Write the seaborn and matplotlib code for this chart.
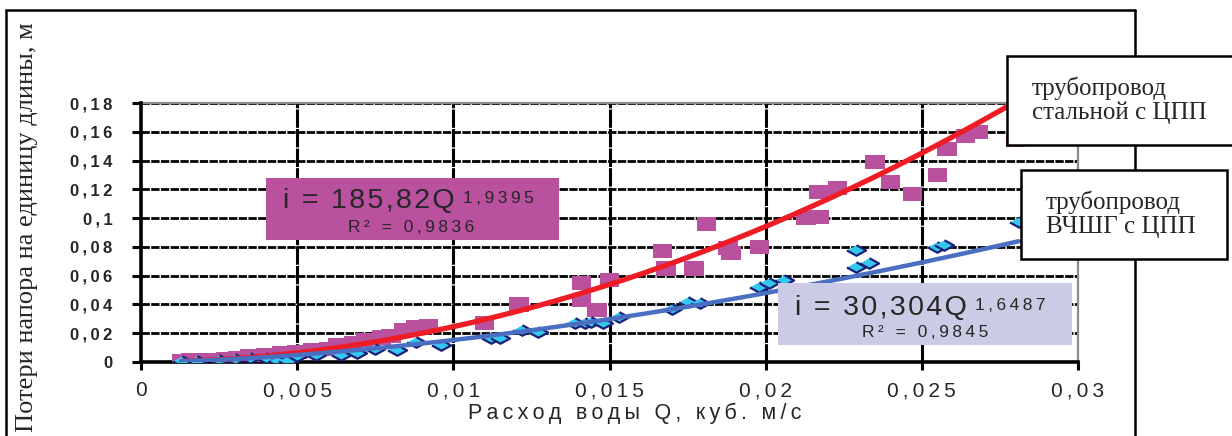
import matplotlib
matplotlib.use("Agg")
import matplotlib.pyplot as plt
from matplotlib.patches import Rectangle
from matplotlib.lines import Line2D
import pandas as pd
import numpy as np
import seaborn as sns

# steel pipe with cement-sand lining (pink squares)
q_steel = [0.0013, 0.0016, 0.0020, 0.0022, 0.0027, 0.0031, 0.0035, 0.0040, 0.0045, 0.0050,
           0.0055, 0.0060, 0.0063, 0.0068, 0.0072, 0.0077, 0.0080, 0.0084, 0.0088, 0.0092,
           0.0110, 0.0121, 0.0141, 0.0141, 0.0146, 0.0150, 0.0167, 0.0168, 0.0177, 0.0181,
           0.0188, 0.0189, 0.0198, 0.0213, 0.0217, 0.0217, 0.0223, 0.0235, 0.0240, 0.0247,
           0.0255, 0.0258, 0.0264, 0.0268, 0.0280]
i_steel = [0.0005, 0.0010, 0.0010, 0.0015, 0.0020, 0.0030, 0.0040, 0.0050, 0.0060, 0.0070,
           0.0080, 0.0090, 0.0120, 0.0130, 0.0150, 0.0170, 0.0180, 0.0220, 0.0240, 0.0250,
           0.0270, 0.0400, 0.0550, 0.0430, 0.0360, 0.0570, 0.0770, 0.0650, 0.0650, 0.0960,
           0.0790, 0.0760, 0.0800, 0.1000, 0.1010, 0.1180, 0.1210, 0.1390, 0.1250, 0.1170,
           0.1300, 0.1480, 0.1570, 0.1600, 0.1540]

# ductile iron pipe with cement-sand lining (blue diamonds)
q_iron = [0.0013, 0.0018, 0.0025, 0.0030, 0.0035, 0.0040, 0.0044, 0.0047, 0.0050, 0.0056,
          0.0064, 0.0069, 0.0075, 0.0082, 0.0088, 0.0096, 0.0112, 0.0115, 0.0122, 0.0127,
          0.0139, 0.0142, 0.0144, 0.0148, 0.0153, 0.0170, 0.0175, 0.0179, 0.0198, 0.0201,
          0.0206, 0.0229, 0.0229, 0.0233, 0.0255, 0.0257, 0.0281]
i_iron = [0.0008, 0.0010, 0.0015, 0.0020, 0.0025, 0.0030, 0.0010, 0.0010, 0.0040, 0.0050,
          0.0050, 0.0060, 0.0090, 0.0080, 0.0140, 0.0120, 0.0170, 0.0170, 0.0220, 0.0210,
          0.0270, 0.0270, 0.0280, 0.0270, 0.0310, 0.0370, 0.0420, 0.0410, 0.0520, 0.0550,
          0.0570, 0.0780, 0.0660, 0.0690, 0.0800, 0.0810, 0.0970]

# power trend lines i = a * Q^b
a_steel, b_steel = 185.82, 1.9395
a_iron, b_iron = 30.304, 1.6487

x_ticks = [0, 0.005, 0.01, 0.015, 0.02, 0.025, 0.03]
x_tick_labels = ["0", "0,005", "0,01", "0,015", "0,02", "0,025", "0,03"]
y_ticks = [0, 0.02, 0.04, 0.06, 0.08, 0.1, 0.12, 0.14, 0.16, 0.18]
y_tick_labels = ["0", "0,02", "0,04", "0,06", "0,08", "0,1", "0,12", "0,14", "0,16", "0,18"]

PINK = "#b9519e"
RED = "#ee1c25"
BLUE = "#4a6ec2"
CYAN = "#33c9ee"
NAVY = "#1c1f78"
LAVENDER = "#cccbe6"

sns.set_style("white")
plt.rcParams["font.family"] = ["Liberation Sans", "DejaVu Sans"]
SANS = ["Liberation Sans", "DejaVu Sans"]
SERIF = ["Liberation Serif", "DejaVu Serif"]


def spaced(s, gap="\u2009"):
    # imitate the wide letter spacing of the original
    return gap.join(s)


fig = plt.figure(figsize=(12.32, 4.36), dpi=100)
ax = fig.add_axes([141 / 1232, 1 - 362 / 436, 937 / 1232, 259 / 436])

steel = pd.DataFrame({"Q": q_steel, "i": i_steel})
iron = pd.DataFrame({"Q": q_iron, "i": i_iron})

rect_marker = [(-1, -0.72), (1, -0.72), (1, 0.72), (-1, 0.72)]
diamond_marker = [(-1, 0), (0, -0.55), (1, 0), (0, 0.55)]

sns.scatterplot(data=steel, x="Q", y="i", marker=rect_marker, s=200, color=PINK,
                edgecolor="none", ax=ax, zorder=3)
sns.scatterplot(data=iron, x="Q", y="i", marker=diamond_marker, s=190, color=CYAN,
                edgecolor=NAVY, linewidth=1.6, ax=ax, zorder=3)

qs = np.linspace(min(q_steel), max(q_steel), 200)
qi = np.linspace(min(q_iron), max(q_iron), 200)
sns.lineplot(x=qs, y=a_steel * qs ** b_steel, color=RED, lw=3.8, ax=ax, zorder=4)
sns.lineplot(x=qi, y=a_iron * qi ** b_iron, color=BLUE, lw=3.2, ax=ax, zorder=4)

ax.set_xlim(0, 0.03)
ax.set_ylim(0, 0.18)
ax.set_xticks(x_ticks)
ax.set_xticklabels([spaced(t) for t in x_tick_labels], fontsize=15, family=SANS)
ax.set_yticks(y_ticks)
ax.set_yticklabels([spaced(t) for t in y_tick_labels], fontsize=12, family=SANS,
                   fontweight="bold")
ax.tick_params(axis="x", direction="out", length=6, width=2.2, color="black", pad=8, bottom=True)
ax.tick_params(axis="y", direction="out", length=6.5, width=2.2, color="black", pad=14, left=True)

for v in x_ticks[1:-1]:
    ax.axvline(v, color="black", lw=2.2, ls=(0, (6, 0.4)), zorder=1)
for v in y_ticks[1:]:
    ax.axhline(v, color="black", lw=2.0, ls=(0, (3, 0.5)), zorder=1)

for side in ["left", "bottom"]:
    ax.spines[side].set_color("black")
    ax.spines[side].set_linewidth(2.6)
for side in ["top", "right"]:
    ax.spines[side].set_color("#8a8a8a")
    ax.spines[side].set_linewidth(1.6)
    ax.spines[side].set_zorder(2)

ax.set_xlabel(spaced("Расход воды Q, куб. м/с"), fontsize=15.5, family=SANS)
ax.xaxis.set_label_coords(0.527, -0.158)
ax.set_ylabel("Потери напора на единицу длины, м", fontsize=19, family=SERIF)
ax.yaxis.set_label_coords(-0.110, 0.52)

# trend line equation boxes
ax.add_patch(Rectangle((0.1334, 0.471), 0.3126, 0.239, transform=ax.transAxes,
                       facecolor=PINK, edgecolor="none", zorder=6))
t1 = ax.text(0.1515, 0.5946, spaced("i = 185,82Q", "\u200a"), transform=ax.transAxes,
             fontsize=20.5, va="baseline", ha="left", zorder=7, family=SANS)
ax.annotate(spaced("1,9395"), xy=(1, 1), xycoords=t1, xytext=(6, -2), textcoords="offset points",
            fontsize=12.5, va="top", ha="left", zorder=7, family=SANS)
ax.text(0.288, 0.502, spaced("R² = 0,9836"), transform=ax.transAxes, fontsize=12.5,
        va="baseline", ha="center", zorder=7, family=SANS)

ax.add_patch(Rectangle((0.680, 0.0656), 0.3136, 0.2394, transform=ax.transAxes,
                       facecolor=LAVENDER, edgecolor="none", zorder=6))
t2 = ax.text(0.698, 0.181, spaced("i = 30,304Q", "\u200a"), transform=ax.transAxes,
             fontsize=20.5, va="baseline", ha="left", zorder=7, family=SANS)
ax.annotate(spaced("1,6487"), xy=(1, 1), xycoords=t2, xytext=(6, -2), textcoords="offset points",
            fontsize=12.5, va="top", ha="left", zorder=7, family=SANS)
ax.text(0.837, 0.0965, spaced("R² = 0,9845"), transform=ax.transAxes, fontsize=12.5,
        va="baseline", ha="center", zorder=7, family=SANS)

# outer frame of the chart area
W, H = 1232, 436
fig.add_artist(Line2D([6 / W, 6 / W], [0, 1 - 10 / H], color="black", lw=1.8))
fig.add_artist(Line2D([6 / W, 1135 / W], [1 - 10 / H, 1 - 10 / H], color="black", lw=1.8))
fig.add_artist(Line2D([1135 / W, 1135 / W], [0, 1 - 10 / H], color="black", lw=1.8))

# legend-like labels
fig.add_artist(Rectangle((1007 / W, 1 - 145 / H), 240 / W, 89 / H, transform=fig.transFigure,
                         facecolor="white", edgecolor="black", lw=1.8, zorder=10))
fig.text(1032 / W, 1 - 100 / H, "трубопровод\nстальной с ЦПП", fontsize=18, family=SERIF,
         va="center", ha="left", linespacing=1.1, zorder=11)
fig.add_artist(Rectangle((1021 / W, 1 - 259 / H), 206 / W, 89 / H, transform=fig.transFigure,
                         facecolor="white", edgecolor="black", lw=1.8, zorder=10))
fig.text(1046 / W, 1 - 214 / H, "трубопровод\nВЧШГ с ЦПП", fontsize=18, family=SERIF,
         va="center", ha="left", linespacing=1.1, zorder=11)

fig.savefig("out.png", dpi=100)
